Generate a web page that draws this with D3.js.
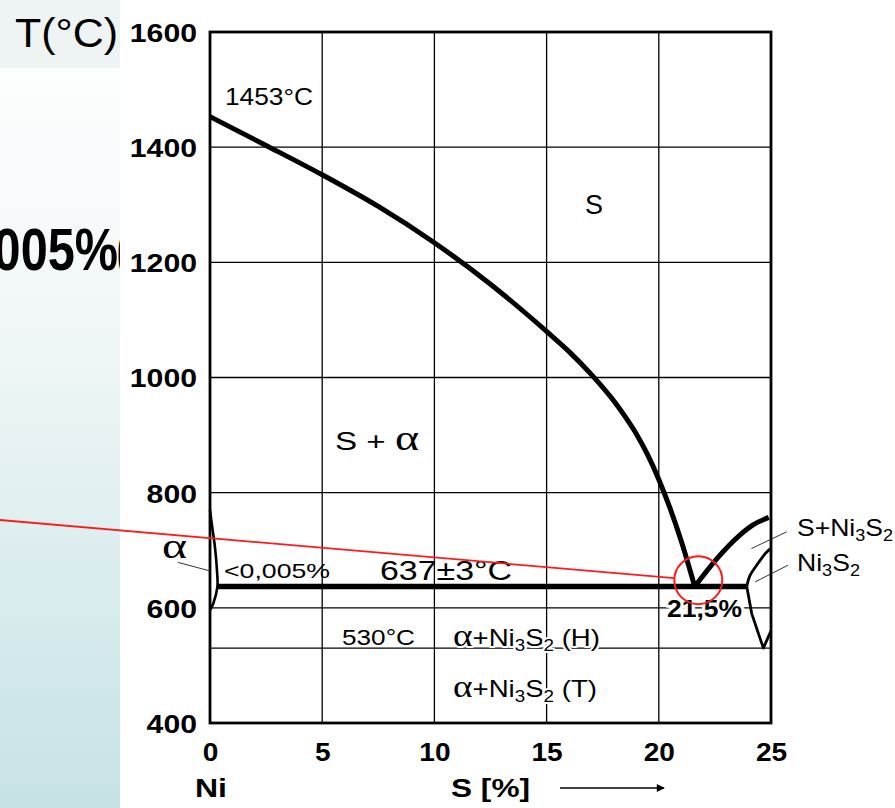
<!DOCTYPE html>
<html><head><meta charset="utf-8">
<script src="https://cdn.jsdelivr.net/npm/d3@7"></script>
<style>body{margin:0;background:#fff}svg{display:block}</style>
</head><body>
<svg id="c" width="895" height="808"></svg>
<script>
// ---- data ----
const xTicks = [0, 5, 10, 15, 20, 25];
const yTicks = [400, 600, 800, 1000, 1200, 1400, 1600];
const xGrid = [5, 10, 15, 20];
const yGrid = [600, 800, 1000, 1200, 1400];
const isotherm530 = 530;
const eutecticT = 637;
const eutecticX = [0.33, 23.92];
const liquidus = [[0,1453],[2.5,1403],[5,1352],[7.5,1297],[10,1234],[12.5,1162],[15,1080],[16,1045],[17,1005],[18,959],[18.5,932],[19,902],[19.5,866],[20,823],[20.5,773],[21,716],[21.6,637]];
const sNi3S2Line = [[21.6,637],[22.6,686],[23.6,726],[24.2,744],[24.9,757]];
const ni3s2Upper = [[23.92,637],[24.05,655],[24.36,674],[24.81,697],[25,703]];
const ni3s2Lower = [[23.92,637],[24.14,590],[24.4,560],[24.66,530],[25,560]];
const alphaSolvus = [[0,770],[0.1,740],[0.22,706],[0.31,665],[0.33,637],[0.15,608],[0,596]];

const W = 895, H = 808;
const svg = d3.select("#c");
const x = d3.scaleLinear().domain([0, 25]).range([210, 771]);
const y = d3.scaleLinear().domain([400, 1600]).range([723, 32]);
const sans = "Liberation Sans, Arial, Helvetica, sans-serif";
const serif = "Liberation Serif, Times New Roman, serif";

// ---- background panel ----
const defs = svg.append("defs");
const g1 = defs.append("linearGradient").attr("id","pan").attr("x1",0).attr("y1",0).attr("x2",0).attr("y2",1);
g1.append("stop").attr("offset","0%").attr("stop-color","#fdfefe");
g1.append("stop").attr("offset","35%").attr("stop-color","#f1f7f8");
g1.append("stop").attr("offset","100%").attr("stop-color","#c6e2e5");
defs.append("clipPath").attr("id","panclip").append("rect").attr("x",0).attr("y",0).attr("width",120).attr("height",H);
const panel = svg.append("g").attr("clip-path","url(#panclip)");
panel.append("rect").attr("x",0).attr("y",0).attr("width",120).attr("height",68).attr("fill","#eef3f4");
panel.append("rect").attr("x",0).attr("y",68).attr("width",120).attr("height",H-68).attr("fill","url(#pan)");
// big text of the slide behind the chart, clipped by the chart image
panel.append("text").attr("x",118).attr("y",270).attr("text-anchor","end")
  .attr("font-family",sans).attr("font-weight","bold")
  .attr("font-size",60).attr("textLength",165).attr("lengthAdjust","spacingAndGlyphs")
  .text("0,005%");
panel.append("text").attr("x",118).attr("y",270)
  .attr("font-family",sans).attr("font-weight","bold")
  .attr("font-size",60).attr("textLength",7).attr("lengthAdjust","spacingAndGlyphs").text("c");

// ---- grid ----
const grid = svg.append("g").attr("stroke","#000").attr("stroke-width",1.3);
grid.selectAll("line.v").data(xGrid).join("line")
  .attr("x1",d=>x(d)).attr("x2",d=>x(d)).attr("y1",y(400)).attr("y2",y(1600));
grid.selectAll("line.h").data(yGrid.concat([isotherm530])).join("line")
  .attr("x1",x(0)).attr("x2",x(25)).attr("y1",d=>y(d)).attr("y2",d=>y(d));

// ---- axes ----
const yAxis = svg.append("g").attr("transform",`translate(${x(0)},0)`)
  .call(d3.axisLeft(y).tickValues(yTicks).tickSize(0).tickPadding(13).tickFormat(d3.format("d")));
yAxis.select(".domain").remove();
yAxis.selectAll("text").attr("font-family",sans).attr("font-weight","bold").attr("font-size",26)
  .attr("fill","#000").attr("dy","0.36em")
  .attr("textLength",d=>String(d).length*16.8).attr("lengthAdjust","spacingAndGlyphs");

const xAxis = svg.append("g").attr("transform",`translate(0,${y(400)})`)
  .call(d3.axisBottom(x).tickValues(xTicks).tickSize(0).tickPadding(20).tickFormat(d3.format("d")));
xAxis.select(".domain").remove();
xAxis.selectAll("text").attr("font-family",sans).attr("font-weight","bold").attr("font-size",25)
  .attr("fill","#000")
  .attr("textLength",d=>String(d).length*15.6).attr("lengthAdjust","spacingAndGlyphs");

// frame
svg.append("rect").attr("x",x(0)).attr("y",y(1600)).attr("width",x(25)-x(0)).attr("height",y(400)-y(1600))
  .attr("fill","none").attr("stroke","#000").attr("stroke-width",2.8);

// ---- labels ----
function label(txt, px, py, opt={}) {
  const t = svg.append("text").attr("x",px).attr("y",py)
    .attr("font-family",opt.family||sans).attr("font-size",opt.size||22)
    .attr("font-weight",opt.weight||"normal").attr("fill","#000");
  if (opt.anchor) t.attr("text-anchor",opt.anchor);
  if (opt.len) t.attr("textLength",opt.len).attr("lengthAdjust","spacingAndGlyphs");
  if (opt.halo) t.attr("stroke","#fff").attr("stroke-width",opt.halo).attr("paint-order","stroke").attr("stroke-linejoin","round");
  if (typeof txt === "string") t.text(txt); else txt(t);
  return t;
}
function ni3s2(t, pre, post, size) {
  if (pre) {
    if (pre.startsWith("α")) {
      t.append("tspan").attr("font-family",serif).attr("font-size",size*1.35).text("α");
      t.append("tspan").text(pre.slice(1));
    } else t.append("tspan").text(pre);
  }
  t.append("tspan").text("Ni");
  t.append("tspan").attr("font-size",size*0.68).attr("dy",5).text("3");
  t.append("tspan").attr("dy",-5).text("S");
  t.append("tspan").attr("font-size",size*0.68).attr("dy",5).text("2");
  if (post) t.append("tspan").attr("dy",-5).text(post);
}

label("T(°C)", 15, 47, {size:40, len:103});
label("1453°C", 225, 105, {size:23, len:88});
label("S", 585, 214, {size:27});
label(t=>{ t.append("tspan").text("S + "); t.append("tspan").attr("font-family",serif).attr("font-size",36).text("α"); }, 335, 450, {size:26, len:84});
label(t=>t.text("α"), 162, 558, {family:serif, size:36, len:25});
label("<0,005%", 224, 578, {size:21, len:106});
label("637±3°C", 380, 580, {size:28, len:132});
label("530°C", 342, 645, {size:22, len:73});

// ---- phase boundaries ----
const line = d3.line().x(d=>x(d[0])).y(d=>y(d[1]));
const smooth = d3.line().x(d=>x(d[0])).y(d=>y(d[1])).curve(d3.curveMonotoneX);
const curve = d3.line().x(d=>x(d[0])).y(d=>y(d[1])).curve(d3.curveCatmullRom.alpha(0.5));

// leader lines
const leaders = [
  [[-1.43,679],[0,664]],
  [[24.13,703],[25.7,732]],
  [[24.29,645],[25.76,674]]
];
svg.append("g").selectAll("path").data(leaders).join("path")
  .attr("d",line).attr("fill","none").attr("stroke","#000").attr("stroke-width",0.8);

svg.append("path").attr("d",smooth(liquidus)).attr("fill","none").attr("stroke","#000").attr("stroke-width",5);
svg.append("path").attr("d",smooth(sNi3S2Line)).attr("fill","none").attr("stroke","#000").attr("stroke-width",5);
svg.append("path").attr("d",curve(ni3s2Upper)).attr("fill","none").attr("stroke","#000").attr("stroke-width",2.8);
svg.append("path").attr("d",line(ni3s2Lower)).attr("fill","none").attr("stroke","#000").attr("stroke-width",2.8).attr("stroke-linejoin","round");
svg.append("path").attr("d",curve(alphaSolvus)).attr("fill","none").attr("stroke","#000").attr("stroke-width",2.6);
svg.append("line").attr("x1",x(eutecticX[0])).attr("x2",x(eutecticX[1])).attr("y1",y(eutecticT)).attr("y2",y(eutecticT))
  .attr("stroke","#000").attr("stroke-width",5.5);

// labels over lines
label("21,5%", 667, 617, {size:24, weight:"bold", len:75, halo:6});
label(t=>ni3s2(t,"α+"," (H)",24), 453, 646, {size:24, len:147, halo:4});
label(t=>ni3s2(t,"α+"," (T)",24), 453, 697, {size:24, len:144, halo:4});
label(t=>ni3s2(t,"S+","",24), 797, 536, {size:24, len:96});
label(t=>ni3s2(t,"","",24), 797, 571, {size:24, len:63});

// bottom labels
label("Ni", 195, 797, {size:26, weight:"bold", len:32});
label("S [%]", 451, 797, {size:26, weight:"bold", len:79});
defs.append("marker").attr("id","arr").attr("viewBox","0 0 10 10").attr("refX",9).attr("refY",5)
  .attr("markerWidth",10).attr("markerHeight",8).attr("markerUnits","userSpaceOnUse").attr("orient","auto")
  .append("path").attr("d","M0,0L10,5L0,10Z").attr("fill","#000");
svg.append("line").attr("x1",560).attr("x2",664).attr("y1",788).attr("y2",788)
  .attr("stroke","#000").attr("stroke-width",1.5).attr("marker-end","url(#arr)");

// ---- red highlight ----
const hx = x(21.76), hy = y(648), hr = 24;
const sx = 0, sy = 520;
const dx = hx - sx, dy = hy - sy, L = Math.hypot(dx, dy);
svg.append("line").attr("x1",sx).attr("y1",sy).attr("x2",hx - hr*dx/L).attr("y2",hy - hr*dy/L)
  .attr("stroke","#ff1a1a").attr("stroke-width",1.8);
svg.append("circle").attr("cx",hx).attr("cy",hy).attr("r",hr).attr("fill","none")
  .attr("stroke","#ff1a1a").attr("stroke-width",2);
</script>
</body></html>
